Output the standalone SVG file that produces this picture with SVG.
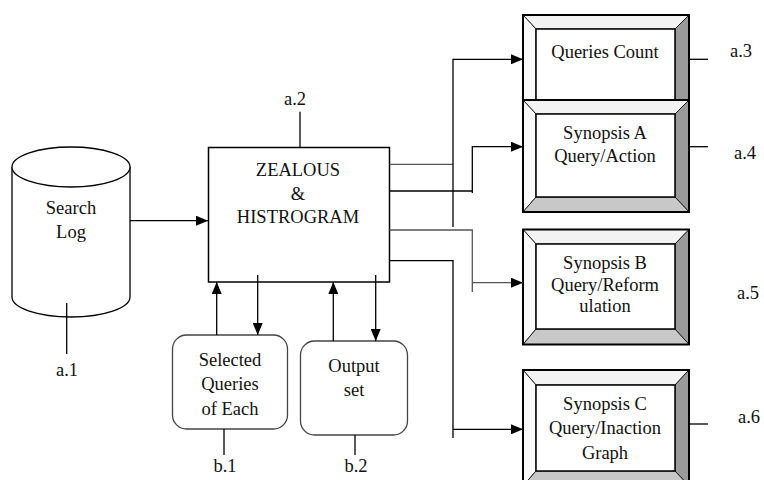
<svg xmlns="http://www.w3.org/2000/svg" width="764" height="480" viewBox="0 0 764 480">
<style>
text{font-family:"Liberation Serif","Times New Roman",serif;font-size:18.5px;fill:#111;text-anchor:middle}
.ln{fill:none;stroke:#000;stroke-width:1.3}
.gl{fill:none;stroke:#555;stroke-width:1.3}
.outer{fill:none;stroke:#000;stroke-width:2}
.inner{fill:#fff;stroke:#000;stroke-width:1.5}
.bt{fill:#f3f3f3;stroke:#000;stroke-width:0.8}
.bl{fill:#fafafa;stroke:#000;stroke-width:0.8}
.br{fill:#9a9a9a;stroke:#000;stroke-width:0.8}
.bb{fill:#c8c8c8;stroke:#000;stroke-width:0.8}
.rb{fill:#fff;stroke:#444;stroke-width:1.3}
</style>
<defs>
<marker id="ah" viewBox="0 0 12 10" refX="12" refY="5" markerWidth="12" markerHeight="10" markerUnits="userSpaceOnUse" orient="auto">
<path d="M0,0 L12,5 L0,10 Z" fill="#000"/>
</marker>
</defs>

<g id="search-log">
<path d="M12,167 L12,297 A59,20 0 0 0 130,297 L130,167" fill="#fff" stroke="#000" stroke-width="1.3"/>
<ellipse cx="71" cy="167" rx="59" ry="20" fill="#fff" stroke="#000" stroke-width="1.3"/>
<text x="71" y="214">Search</text>
<text x="71" y="238">Log</text>
</g>

<g id="zealous">
<rect x="208.5" y="147.5" width="181" height="134.5" fill="#fff" stroke="#000" stroke-width="1.5"/>
<text x="298" y="175.5">ZEALOUS</text>
<text x="298" y="199.5">&amp;</text>
<text x="298" y="222.5">HISTROGRAM</text>
</g>

<g id="queries-count">
<polygon class="bt" points="523,15 689,15 675,29 536,29"/>
<polygon class="bl" points="523,15 536,29 536,100 523,115"/>
<polygon class="br" points="689,15 689,115 675,100 675,29"/>
<polygon class="bb" points="523,115 536,100 675,100 689,115"/>
<rect class="inner" x="536" y="29" width="139" height="71"/>
<rect class="outer" x="523" y="15" width="166" height="100"/>
<text x="605" y="58">Queries Count</text>
</g>

<g id="synopsis-a">
<polygon class="bt" points="523,100 689,100 675,114 536,114"/>
<polygon class="bl" points="523,100 536,114 536,197 523,212"/>
<polygon class="br" points="689,100 689,212 675,197 675,114"/>
<polygon class="bb" points="523,212 536,197 675,197 689,212"/>
<rect class="inner" x="536" y="114" width="139" height="83"/>
<rect class="outer" x="523" y="100" width="166" height="112"/>
<text x="605" y="138.5">Synopsis A</text>
<text x="605" y="162">Query/Action</text>
</g>

<g id="synopsis-b">
<polygon class="bt" points="523,229.5 689,229.5 675,244 536,244"/>
<polygon class="bl" points="523,229.5 536,244 536,329 523,344.5"/>
<polygon class="br" points="689,229.5 689,344.5 675,329 675,244"/>
<polygon class="bb" points="523,344.5 536,329 675,329 689,344.5"/>
<rect class="inner" x="536" y="244" width="139" height="85"/>
<rect class="outer" x="523" y="229.5" width="166" height="115"/>
<text x="605" y="268.5">Synopsis B</text>
<text x="605" y="291">Query/Reform</text>
<text x="605" y="312">ulation</text>
</g>

<g id="synopsis-c">
<polygon class="bt" points="523,370 689,370 675,385 536,385"/>
<polygon class="bl" points="523,370 536,385 536,471 523,486"/>
<polygon class="br" points="689,370 689,486 675,471 675,385"/>
<polygon class="bb" points="523,486 536,471 675,471 689,486"/>
<rect class="inner" x="536" y="385" width="139" height="86"/>
<rect class="outer" x="523" y="370" width="166" height="116"/>
<text x="605" y="409.5">Synopsis C</text>
<text x="605" y="433.5">Query/Inaction</text>
<text x="605" y="458.5">Graph</text>
</g>

<g id="selected-queries">
<rect class="rb" x="172.5" y="335" width="115" height="94" rx="14"/>
<text x="230" y="366">Selected</text>
<text x="230" y="390">Queries</text>
<text x="230" y="414.5">of Each</text>
</g>

<g id="output-set">
<rect class="rb" x="300.5" y="341" width="107" height="94" rx="14"/>
<text x="354" y="372">Output</text>
<text x="354" y="396">set</text>
</g>

<g id="labels">
<text x="67" y="375.5">a.1</text>
<text x="295" y="105">a.2</text>
<text x="741" y="56.5">a.3</text>
<text x="745" y="159">a.4</text>
<text x="748" y="299">a.5</text>
<text x="749" y="423">a.6</text>
<text x="225" y="471.5">b.1</text>
<text x="356" y="471.5">b.2</text>
</g>

<g id="connectors">
<path class="ln" d="M130,220.7 H208" marker-end="url(#ah)"/>
<path class="ln" d="M216.7,335 V282" marker-end="url(#ah)"/>
<path class="ln" d="M257.7,275 V335" marker-end="url(#ah)"/>
<path class="ln" d="M333.3,341 V282" marker-end="url(#ah)"/>
<path class="ln" d="M375.7,275 V341" marker-end="url(#ah)"/>
<path class="gl" d="M389.5,164.3 H453"/>
<path class="ln" d="M453,227 V59.3 H523" marker-end="url(#ah)"/>
<path class="ln" d="M389.5,191 H472.3"/>
<path class="ln" d="M472.3,193 V146.7 H523" marker-end="url(#ah)"/>
<path class="gl" d="M389.5,230 H472.3 V292"/>
<path class="gl" d="M472.3,282.7 H523" marker-end="url(#ah)"/>
<path class="ln" d="M389.5,260.7 H453 V438"/>
<path class="ln" d="M453,429.3 H523" marker-end="url(#ah)"/>
<path class="ln" d="M66.7,303 V354"/>
<path class="ln" d="M300,111.7 V147.5"/>
<path class="ln" d="M689,59.3 H708"/>
<path class="ln" d="M689,146.7 H708"/>
<path class="ln" d="M689,424 H708"/>
<path class="ln" d="M224,429 V455"/>
<path class="ln" d="M355,435 V455"/>
</g>
</svg>
